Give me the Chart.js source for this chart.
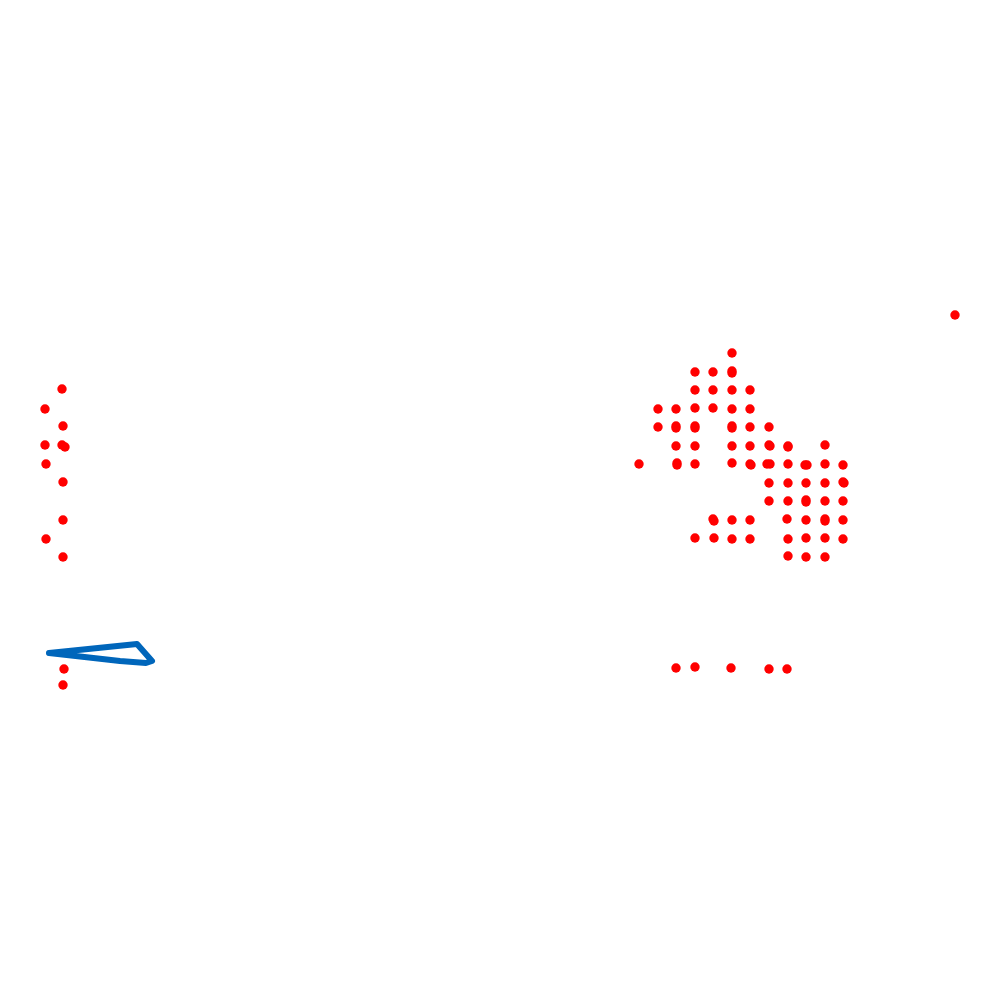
<!DOCTYPE html>
<html>
<head>
<meta charset="utf-8">
<script src="https://cdn.jsdelivr.net/npm/chart.js@4"></script>
<style>
  html, body { margin: 0; padding: 0; background: #fff; }
  #wrap { width: 1000px; height: 1000px; }
</style>
</head>
<body>
<div id="wrap"><canvas id="c" width="1000" height="1000"></canvas></div>
<script>
// red dots (x, y in plot units, y grows downward)
var dotX = [
  62, 45, 63, 45, 62, 65, 46, 63, 63, 46, 63, 64, 63,
  732,
  695, 713, 732, 732,
  695, 713, 732, 750,
  658, 676, 695, 713, 732, 750,
  658, 676, 676, 695, 695, 732, 732, 750, 769,
  676, 695, 732, 750, 769, 770, 788, 788, 825,
  639, 677, 677, 695, 732, 750, 751, 767, 770, 788, 805, 807, 825, 843,
  769, 788, 806, 825, 843, 844,
  769, 788, 806, 806, 825, 843,
  713, 714, 732, 750, 787, 806, 825, 825, 843,
  695, 714, 732, 750, 788, 806, 825, 843,
  788, 806, 825,
  676, 695, 731, 769, 787,
  955
];
var dotY = [
  389, 409, 426, 445, 445, 447, 464, 482, 520, 539, 557, 669, 685,
  353,
  372, 372, 371, 373,
  390, 390, 390, 390,
  409, 409, 408, 408, 409, 409,
  427, 426, 428, 426, 428, 426, 428, 427, 427,
  446, 446, 446, 446, 445, 446, 446, 447, 445,
  464, 463, 465, 464, 463, 464, 465, 464, 464, 464, 465, 465, 464, 465,
  483, 483, 483, 483, 482, 483,
  501, 501, 500, 502, 501, 501,
  519, 521, 520, 520, 519, 520, 519, 521, 520,
  538, 538, 539, 539, 539, 538, 538, 539,
  556, 557, 557,
  668, 667, 668, 669, 669,
  315
];

// blue closed outline
var lineX = [49, 137, 152, 146, 120, 49];
var lineY = [653, 644, 661, 663, 661, 653];

var dots = dotX.map(function(x, i){ return {x: x, y: dotY[i]}; });
var outline = lineX.map(function(x, i){ return {x: x, y: lineY[i]}; });

new Chart(document.getElementById("c").getContext("2d"), {
  type: "scatter",
  data: {
    datasets: [
      {
        data: outline,
        showLine: true,
        borderColor: "#0066bb",
        borderWidth: 6,
        borderJoinStyle: "round",
        borderCapStyle: "round",
        pointRadius: 0,
        fill: false
      },
      {
        data: dots,
        backgroundColor: "#ff0000",
        borderWidth: 0,
        pointRadius: 4.7
      }
    ]
  },
  options: {
    responsive: false,
    animation: false,
    layout: { padding: 0, autoPadding: false },
    plugins: { legend: { display: false }, tooltip: { enabled: false } },
    scales: {
      x: { type: "linear", display: false, min: 0, max: 1000 },
      y: { type: "linear", display: false, min: 0, max: 1000, reverse: true }
    }
  }
});
</script>
</body>
</html>
